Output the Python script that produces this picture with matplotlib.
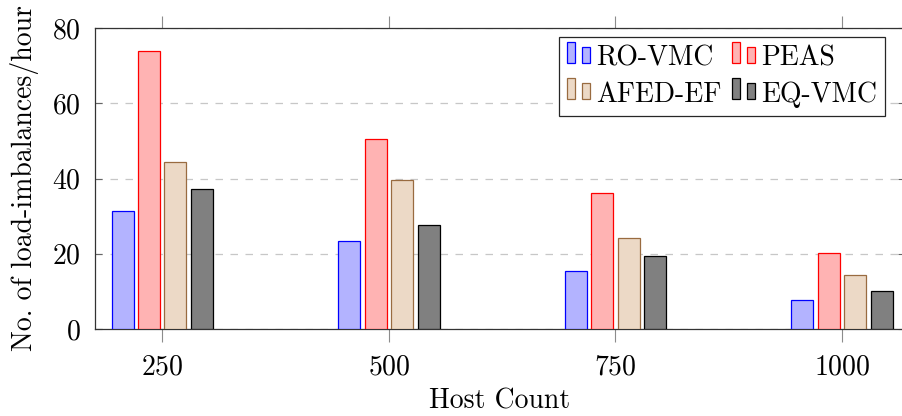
import numpy as np
import matplotlib
matplotlib.use("Agg")
import matplotlib.pyplot as plt
from matplotlib.legend_handler import HandlerBase
from matplotlib.patches import Rectangle

plt.rcParams['font.family'] = 'serif'
plt.rcParams['font.serif'] = ['cmr10', 'DejaVu Serif']
plt.rcParams['axes.formatter.use_mathtext'] = True
plt.rcParams['mathtext.fontset'] = 'cm'

# donnees
hosts = [250, 500, 750, 1000]
series = ["RO-VMC", "PEAS", "AFED-EF", "EQ-VMC"]
ro_vmc = [31.3, 23.4, 15.5, 7.6]
peas = [73.9, 50.4, 36.2, 20.2]
afed_ef = [44.3, 39.7, 24.2, 14.3]
eq_vmc = [37.3, 27.6, 19.5, 10.0]

valeurs = [ro_vmc, peas, afed_ef, eq_vmc]
remplissage = [(0.7, 0.7, 1.0), (1.0, 0.7, 0.7), (0.925, 0.85, 0.775), (0.5, 0.5, 0.5)]
bords = ['blue', 'red', (0.6, 0.42, 0.25), 'black']


class DeuxBarres(HandlerBase):
    # petit symbole de legende facon pgfplots (deux barres)
    def create_artists(self, legend, orig_handle, xdescent, ydescent,
                       width, height, fontsize, trans):
        fc = orig_handle.get_facecolor()
        ec = orig_handle.get_edgecolor()
        w = 5.8
        y0 = -ydescent + 2.0
        r1 = Rectangle((-xdescent, y0), w, height * 1.08,
                       facecolor=fc, edgecolor=ec, lw=0.9, transform=trans)
        r2 = Rectangle((-xdescent + 10.8, y0), w, height * 0.82,
                       facecolor=fc, edgecolor=ec, lw=0.9, transform=trans)
        return [r1, r2]


fig = plt.figure(figsize=(9.02, 4.16), dpi=100)
ax = fig.add_axes([95/902, 1 - 329/416, 810/902, 301/416])

x = np.array(hosts, dtype=float)
largeur = 24.3
decal = 29.2
barres = []
for k, (val, fc, ec) in enumerate(zip(valeurs, remplissage, bords)):
    b = ax.bar(x + (k - 1.5) * decal, val, width=largeur, facecolor=fc,
               edgecolor=ec, linewidth=0.9, label=series[k], zorder=3)
    barres.append(b[0])

ax.set_xlim(175.8, 1069.5)
ax.set_ylim(0, 80)
ax.set_xticks(hosts)
ax.set_yticks([0, 20, 40, 60, 80])
ax.yaxis.grid(True, linestyle=(0, (6, 6)), color=(0.78, 0.78, 0.78), lw=0.9, zorder=0)
ax.tick_params(axis='x', direction='out', top=True, length=9, width=0.8,
               color=(0.55, 0.55, 0.55), labelsize=20, pad=9)
ax.tick_params(axis='y', direction='in', right=True, length=5, width=0.8,
               color=(0.4, 0.4, 0.4), labelsize=20, pad=10)
for s in ax.spines.values():
    s.set_linewidth(0.9)
    s.set_color((0.2, 0.2, 0.2))

ax.set_xlabel("Host Count", fontsize=20, labelpad=6)
ax.set_ylabel("No. of load-imbalances/hour", fontsize=20, labelpad=10)

# ordre ligne par ligne comme dans pgfplots
ordre = [0, 2, 1, 3]
leg = ax.legend([barres[i] for i in ordre], [series[i] for i in ordre], ncol=2,
                loc='upper right', fontsize=20,
                bbox_to_anchor=(885/902, 1 - 37/416), bbox_transform=fig.transFigure,
                borderaxespad=0, handler_map={Rectangle: DeuxBarres()},
                handlelength=0.83, handletextpad=0.22, columnspacing=0.35,
                labelspacing=0.35, borderpad=0.3, fancybox=False, framealpha=1,
                edgecolor=(0.15, 0.15, 0.15))
leg.get_frame().set_linewidth(0.9)

fig.savefig("out.png", dpi=100)
